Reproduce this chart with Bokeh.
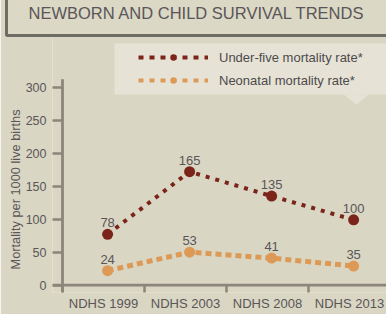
from bokeh.plotting import figure
from bokeh.models import (ColumnDataSource, FixedTicker, Legend, LegendItem,
                          BoxAnnotation, PolyAnnotation, Range1d, Title)
from bokeh.core.properties import value
from bokeh.embed import file_html
from bokeh.resources import INLINE

# ---- data ----
title_text = "NEWBORN AND CHILD SURVIVAL TRENDS"
y_label = "Mortality per 1000 live births"
categories = ["NDHS 1999", "NDHS 2003", "NDHS 2008", "NDHS 2013"]
under5 = [77, 172, 135, 99]
under5_labels = ["78", "165", "135", "100"]
neonatal = [22, 50, 41, 29]
neonatal_labels = ["24", "53", "41", "35"]
y_ticks = [0, 50, 100, 150, 200, 250, 300]
series_names = ["Under-five mortality rate*", "Neonatal mortality rate*"]

BG = "#d9d6c3"
RED = "#7b2419"
ORANGE = "#dd9a57"
TXT = "#5a5558"
AX = "#8c857a"
FONT = "Liberation Sans"
SHIFT = 12  # top of canvas hidden above the window (keeps the title box open at top)

xpos = [i + 0.55 for i in range(len(categories))]
src = ColumnDataSource(dict(x=xpos, u=under5, ul=under5_labels,
                            n=neonatal, nl=neonatal_labels))

p = figure(width=386, height=314 + SHIFT, output_backend="svg", toolbar_location=None,
           x_range=Range1d(-0.122, 3.951), y_range=Range1d(-11.1, 378.3),
           min_border_left=52, min_border_right=0, min_border_top=0,
           min_border_bottom=22 + 0)
p.margin = (-SHIFT, 0, 0, 0)
p.background_fill_color = BG
p.border_fill_color = BG
p.outline_line_color = None
p.grid.visible = False

# title with a box whose top/right edges run off the window
p.title.text = title_text
p.title.align = "left"
p.title.offset = -46
p.title.standoff = 0
p.title.text_font = FONT
p.title.text_font_size = "16.5px"
p.title.text_font_style = "normal"
p.title.text_color = TXT
p.title.background_fill_color = "#dbd8c6"
p.title.border_line_color = "#6e6d63"
p.title.border_line_width = 3
p.title.padding = (22, 120, 13, 14)

# x axis (ticks drawn inward from frame bottom up to the zero line)
xa = p.xaxis[0]
xa.ticker = FixedTicker(ticks=[i + 0.5 for i in range(len(categories))],
                        minor_ticks=list(range(len(categories))))
xa.major_label_overrides = {i + 0.5: c for i, c in enumerate(categories)}
xa.axis_line_color = None
xa.major_tick_line_color = None
xa.major_tick_out = 0
xa.major_tick_in = 0
xa.minor_tick_line_color = AX
xa.minor_tick_line_width = 2.5
xa.minor_tick_out = 0
xa.minor_tick_in = 7
xa.major_label_standoff = 3
xa.major_label_text_font = FONT
xa.major_label_text_font_size = "13px"
xa.major_label_text_color = TXT

# y axis (ticks drawn inward from frame left up to the axis line)
ya = p.yaxis[0]
ya.ticker = FixedTicker(ticks=y_ticks, minor_ticks=[])
ya.axis_line_color = None
ya.major_tick_line_color = AX
ya.major_tick_line_width = 2.5
ya.major_tick_out = 0
ya.major_tick_in = 10
ya.minor_tick_line_color = None
ya.major_label_standoff = 6
ya.major_label_text_font = FONT
ya.major_label_text_font_size = "12.5px"
ya.major_label_text_color = TXT

p.add_layout(Title(text=y_label, align="left", offset=23, standoff=0,
                   text_font=FONT, text_font_size="12.8px",
                   text_font_style="normal", text_color=TXT), "left")

# axis lines
p.segment(x0=[0], y0=[-11.1], x1=[0], y1=[312], line_color=AX, line_width=2.8)
p.segment(x0=[-0.122], y0=[0], x1=[3.951], y1=[0], line_color=AX, line_width=2.8)

# legend box + pointer (screen units, frame-relative, y up)
p.add_layout(BoxAnnotation(left=62, right=400, top=249, bottom=198,
                           left_units="screen", right_units="screen",
                           top_units="screen", bottom_units="screen",
                           fill_color="#e6e3d6", fill_alpha=1,
                           line_color=None, level="underlay"))
p.add_layout(PolyAnnotation(xs=[291, 316, 304], ys=[198, 198, 188],
                            xs_units="screen", ys_units="screen",
                            fill_color="#e6e3d6", fill_alpha=1,
                            line_color=None, level="underlay"))

# series
p.line("x", "u", source=src, line_color=RED, line_width=4, line_dash="4 6")
p.scatter("x", "u", source=src, size=11, fill_color=RED, line_color=None)
p.line("x", "n", source=src, line_color=ORANGE, line_width=5, line_dash="6 4")
p.scatter("x", "n", source=src, size=11, fill_color=ORANGE, line_color=None)

for col, lab in (("u", "ul"), ("n", "nl")):
    p.text("x", col, text=lab, source=src, text_align="center",
           text_baseline="bottom", y_offset=-7, text_font=value(FONT),
           text_font_size="13px", text_color=TXT)

# legend (off-range renderers carrying the legend styling)
nan = float("nan")
dummy = ColumnDataSource(dict(x=[nan], y=[nan]))
items = []
for name, color in zip(series_names, [RED, ORANGE]):
    r1 = p.line("x", "y", source=dummy, line_color=color, line_width=4, line_dash="5 6")
    r2 = p.scatter("x", "y", source=dummy, size=11, fill_color=color, line_color=None)
    items.append(LegendItem(label=name, renderers=[r1, r2]))
legend = Legend(items=items, location=(86, 204), glyph_width=70, glyph_height=16,
                spacing=7, label_standoff=11, padding=0, margin=0,
                background_fill_alpha=0, border_line_color=None,
                label_text_font=FONT, label_text_font_size="13px",
                label_text_color="#4d4a4c")
p.add_layout(legend, "center")

open("out.html", "w").write(file_html(p, INLINE))
